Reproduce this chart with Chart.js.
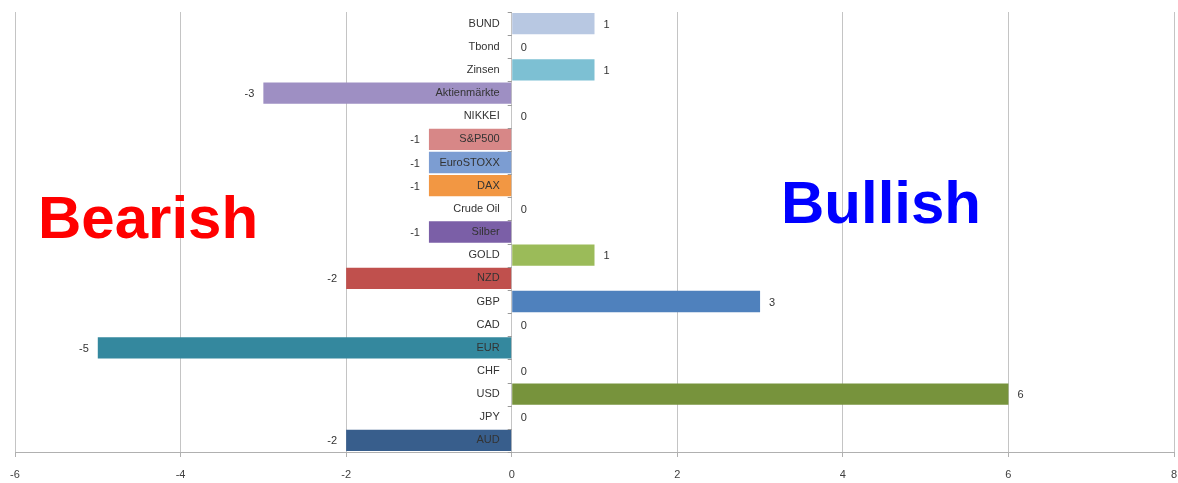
<!DOCTYPE html>
<html>
<head>
<meta charset="utf-8">
<script src="https://cdn.jsdelivr.net/npm/chart.js@4/dist/chart.umd.min.js"></script>
<style>
  html, body { margin: 0; padding: 0; background: #fff; }
  #wrap { width: 1178px; height: 483px; position: relative; }
</style>
</head>
<body>
<div id="wrap"><canvas id="sentiment"></canvas></div>
<script>
// data
const categories = ['BUND', 'Tbond', 'Zinsen', 'Aktienmärkte', 'NIKKEI', 'S&P500', 'EuroSTOXX', 'DAX',
  'Crude Oil', 'Silber', 'GOLD', 'NZD', 'GBP', 'CAD', 'EUR', 'CHF', 'USD', 'JPY', 'AUD'];
const scores = [1, 0, 1, -3, 0, -1, -1, -1, 0, -1, 1, -2, 3, 0, -5, 0, 6, 0, -2];
const barColors = ['#b8c8e2', '#ffffff', '#7dc0d3', '#9e8fc3', '#ffffff', '#d78787', '#7c9dd2', '#f29743',
  '#ffffff', '#7b5fa7', '#9bbb59', '#c0504d', '#4f81bd', '#ffffff', '#34889e', '#ffffff', '#77933c', '#ffffff', '#385e8c'];
const xTicks = [-6, -4, -2, 0, 2, 4, 6, 8];

// category names sit just left of the zero line, values at the bar ends
const labelPlugin = {
  id: 'labels',
  afterDatasetsDraw(chart) {
    const ctx = chart.ctx;
    const x = chart.scales.x;
    const y = chart.scales.y;
    const zero = x.getPixelForValue(0);
    ctx.save();
    ctx.font = '11px "Liberation Sans", Arial, sans-serif';
    ctx.textBaseline = 'middle';
    ctx.fillStyle = '#333';
    categories.forEach((name, i) => {
      const py = y.getPixelForValue(i);
      ctx.textAlign = 'right';
      ctx.fillText(name, zero - 12, py);
      const v = scores[i];
      const end = x.getPixelForValue(v);
      if (v >= 0) {
        ctx.textAlign = 'left';
        ctx.fillText(String(v), end + 9, py + 1);
      } else {
        ctx.textAlign = 'right';
        ctx.fillText(String(v), end - 9, py + 1);
      }
    });
    // little tick marks on the zero line
    ctx.strokeStyle = '#999';
    ctx.lineWidth = 1;
    for (let i = 0; i <= categories.length; i++) {
      const py = Math.round(y.getPixelForValue(i - 0.5)) + 0.5;
      ctx.beginPath();
      ctx.moveTo(zero - 4, py);
      ctx.lineTo(zero, py);
      ctx.stroke();
    }
    // big words
    ctx.font = 'bold 60px "Liberation Sans", Arial, sans-serif';
    ctx.textBaseline = 'alphabetic';
    ctx.textAlign = 'left';
    ctx.fillStyle = '#ff0000';
    ctx.fillText('Bearish', 38, 238);
    ctx.fillStyle = '#0000ff';
    ctx.fillText('Bullish', 781, 223);
    ctx.restore();
  }
};

new Chart(document.getElementById('sentiment'), {
  type: 'bar',
  data: {
    labels: categories,
    datasets: [{
      data: scores,
      backgroundColor: barColors,
      borderWidth: 0,
      barPercentage: 0.92,
      categoryPercentage: 1
    }]
  },
  options: {
    indexAxis: 'y',
    responsive: true,
    maintainAspectRatio: false,
    animation: false,
    layout: { padding: { left: 15, right: 4, top: 12, bottom: 0 } },
    plugins: { legend: { display: false }, tooltip: { enabled: false } },
    scales: {
      x: {
        min: -6,
        max: 8,
        afterBuildTicks(axis) { axis.ticks = xTicks.map(v => ({ value: v })); },
        afterFit(axis) {
          axis.paddingLeft = 0;
          axis.paddingRight = 0;
          axis.height = 31;
        },
        grid: { color: '#c4c4c4', tickLength: 5, tickColor: '#b0b0b0' },
        border: { color: '#b0b0b0' },
        ticks: { color: '#404040', padding: 11, font: { size: 11, family: '"Liberation Sans", Arial, sans-serif' } }
      },
      y: {
        display: false
      }
    }
  },
  plugins: [labelPlugin]
});
</script>
</body>
</html>
